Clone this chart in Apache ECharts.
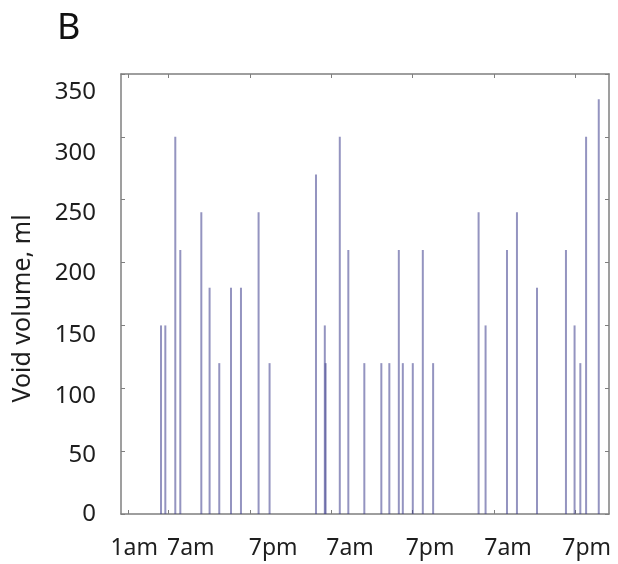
<!DOCTYPE html>
<html>
<head>
<meta charset="utf-8">
<script src="https://cdn.jsdelivr.net/npm/echarts@6/dist/echarts.min.js"></script>
<style>
html,body{margin:0;padding:0;background:#fff;}
#chart{width:618px;height:564px;}
</style>
</head>
<body>
<div id="chart"></div>
<script>
// Void times (hours since midnight of day 1) and volumes (ml)
var voidHours = [5.90, 6.54, 8.01, 8.75, 11.85, 13.07, 14.50, 16.23, 17.70, 20.30, 21.92,
  28.77, 30.07, 30.19, 32.28, 33.54, 35.90, 38.41, 39.59, 40.99, 41.58, 43.05, 44.53, 46.05,
  52.76, 53.79, 56.95, 58.42, 61.38, 65.65, 66.92, 67.77, 68.62, 70.49];
var voidVolumes = [150, 150, 300, 210, 240, 180, 120, 180, 180, 240, 120,
  270, 150, 120, 300, 210, 120, 120, 120, 210, 120, 120, 210, 120,
  240, 150, 210, 240, 180, 210, 150, 120, 300, 330];

// x axis ticks (hours) and labels
var xTickHours = [1, 7, 19, 31, 43, 55, 67];
var xTickLabels = ['1am', '7am', '7pm', '7am', '7pm', '7am', '7pm'];
var xLabelAnchors = [1.95, 10.3, 22.45, 33.8, 45.6, 57.1, 68.7];

// y axis ticks and labels
var yTickValues = [0, 50, 100, 150, 200, 250, 300, 350];
var yTickLabels = ['0', '50', '100', '150', '200', '250', '300', '350'];
var yLabelAnchors = [0, 46.9, 93.9, 142.4, 191.7, 239.4, 287.2, 335.7];

var boxColor = '#7f7f7f';
var textColor = '#1e1e1e';
var fontFam = '"Noto Sans", "Open Sans", sans-serif';

var chart = echarts.init(document.getElementById('chart'), null, {renderer: 'canvas'});

var barData = voidHours.map(function (h, i) { return [h, voidVolumes[i]]; });

var option = {
  animation: false,
  backgroundColor: '#ffffff',
  title: {
    text: 'B',
    left: 57,
    top: 11,
    padding: 0,
    textStyle: {fontFamily: fontFam, fontSize: 36, fontWeight: 'normal', color: '#111'}
  },
  grid: {left: 121, right: 9, top: 74, bottom: 50, containLabel: false, outerBoundsMode: 'none'},
  xAxis: [
    {
      type: 'value', min: 0, max: 72, position: 'bottom',
      axisLine: {show: true, onZero: false, lineStyle: {color: boxColor, width: 1.5}},
      axisTick: {show: true, inside: true, length: 4, customValues: xTickHours, lineStyle: {color: boxColor, width: 1}},
      axisLabel: {
        show: true, customValues: xLabelAnchors, margin: 23,
        fontFamily: fontFam, fontSize: 23, color: textColor,
        formatter: function (v) {
          var i = xLabelAnchors.indexOf(v);
          return i >= 0 ? xTickLabels[i] : '';
        }
      },
      splitLine: {show: false}
    },
    {
      type: 'value', min: 0, max: 72, position: 'top',
      axisLine: {show: true, onZero: false, lineStyle: {color: boxColor, width: 1.5}},
      axisTick: {show: true, inside: true, length: 4, customValues: xTickHours, lineStyle: {color: boxColor, width: 1}},
      axisLabel: {show: false},
      splitLine: {show: false}
    }
  ],
  yAxis: [
    {
      type: 'value', min: 0, max: 350, interval: 50, position: 'left',
      name: 'Void volume, ml', nameLocation: 'middle', nameGap: 86, nameRotate: 90,
      nameTextStyle: {fontFamily: fontFam, fontSize: 25, color: textColor, padding: [0, 29, 0, 0]},
      axisLine: {show: true, onZero: false, lineStyle: {color: boxColor, width: 1.5}},
      axisTick: {show: true, inside: true, length: 4, customValues: yTickValues, lineStyle: {color: boxColor, width: 1}},
      axisLabel: {
        show: true, customValues: yLabelAnchors, margin: 25,
        fontFamily: fontFam, fontSize: 24, color: textColor,
        formatter: function (v) {
          var i = yLabelAnchors.indexOf(v);
          return i >= 0 ? yTickLabels[i] : '';
        }
      },
      splitLine: {show: false}
    },
    {
      type: 'value', min: 0, max: 350, interval: 50, position: 'right',
      axisLine: {show: true, onZero: false, lineStyle: {color: boxColor, width: 1.5}},
      axisTick: {show: true, inside: true, length: 4, customValues: yTickValues, lineStyle: {color: boxColor, width: 1}},
      axisLabel: {show: false},
      splitLine: {show: false}
    }
  ],
  series: [
    {
      type: 'bar',
      xAxisIndex: 0, yAxisIndex: 0,
      barWidth: 2,
      data: barData,
      itemStyle: {color: 'rgba(60,60,140,0.55)'},
      emphasis: {disabled: true}
    }
  ]
};
chart.setOption(option);
</script>
</body>
</html>
